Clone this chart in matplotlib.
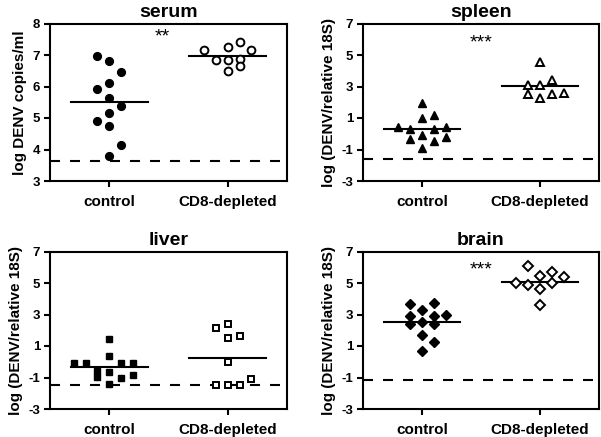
import numpy as np
import matplotlib.pyplot as plt

plt.rcParams["font.family"] = ["Liberation Sans", "DejaVu Sans"]
plt.rcParams["font.weight"] = "bold"
plt.rcParams["axes.linewidth"] = 1.5

# =========================================
# DADOS
# =========================================

grupos = ["control", "CD8-depleted"]

# serum - log DENV copies/ml
serum_control = [6.96, 6.82, 6.46, 6.10, 5.91, 5.65, 5.39, 5.15, 4.89, 4.74, 4.14, 3.79]
serum_control_col = [-1, 0, 1, 0, -1, 0, 1, 0, -1, 0, 1, 0]
serum_cd8 = [7.17, 7.26, 7.40, 7.17, 6.83, 6.83, 6.88, 6.66, 6.48]
serum_cd8_col = [-2, 0, 1, 2, -1, 0, 1, 1, 0]
serum_lod = 3.63

# spleen
spleen_control = [1.95, 1.03, 1.16, 0.42, 0.29, 0.33, 0.46, -0.32, -0.07, -0.45, -0.18, -0.92]
spleen_control_col = [0, 0, 1, -2, -1, 1, 2, -1, 0, 1, 2, 0]
spleen_cd8 = [4.54, 3.43, 3.11, 3.07, 2.52, 2.24, 2.52, 2.59]
spleen_cd8_col = [0, 1, -1, 0, -1, 0, 1, 2]
spleen_lod = -1.58

# liver
liver_control = [1.44, 0.38, -0.10, -0.10, -0.10, -0.10, -0.59, -0.97, -0.64, -1.05, -0.84, -1.41]
liver_control_col = [0, 0, -3, -2, 1, 2, -1, -1, 0, 1, 2, 0]
liver_cd8 = [2.14, 2.39, 1.50, 1.63, 0.00, -1.50, -1.50, -1.50, -1.08]
liver_cd8_col = [-1, 0, 0, 1, 0, -1, 0, 1, 2]
liver_lod = -1.46

# brain
brain_control = [3.64, 3.74, 3.28, 2.92, 2.92, 3.00, 2.39, 2.54, 2.39, 1.69, 1.25, 0.66]
brain_control_col = [-1, 1, 0, -1, 1, 2, -1, 0, 1, 0, 1, 0]
brain_cd8 = [6.07, 5.73, 5.46, 5.35, 5.03, 4.88, 5.03, 4.61, 3.60]
brain_cd8_col = [-1, 1, 0, 2, -2, -1, 1, 0, 0]
brain_lod = -1.18

# =========================================
# FIGURA
# =========================================

W, H = 601, 437
fig = plt.figure(figsize=(W / 100, H / 100), dpi=100)


def painel(box, titulo, ylabel, ctrl, ctrl_col, cd8, cd8_col, lod, marker,
           yticks, ylim, stars=None, stars_x=2.0, stars_y=None):
    l, t, r, b = box
    ax = fig.add_axes([l / W, 1 - b / H, (r - l) / W, (b - t) / H])

    xpos = [1, 3]
    passo = 0.2

    # control: simbolos cheios
    ax.plot(xpos[0] + passo * np.array(ctrl_col), ctrl, ls="none",
            marker=marker["m"], ms=marker["ms"], color="black", mec="black")
    # CD8-depleted: simbolos vazios
    ax.plot(xpos[1] + passo * np.array(cd8_col), cd8, ls="none",
            marker=marker["m"], ms=marker["ms"], mfc="white", mec="black",
            mew=1.4)

    # linhas da media
    for x, vals in zip(xpos, [ctrl, cd8]):
        m = np.mean(vals)
        ax.plot([x - 0.65, x + 0.65], [m, m], color="black", lw=1.5, zorder=1)

    # limite de deteccao
    ax.axhline(lod, color="black", lw=1.5, ls=(0, (4.8, 4.8)), zorder=0)

    if stars:
        ax.text(stars_x, stars_y, stars, ha="center", va="center",
                fontsize=14, fontweight="normal")

    ax.set_xlim(0, 4)
    ax.set_ylim(*ylim)
    ax.set_xticks(xpos)
    ax.set_xticklabels(grupos, fontsize=11, fontweight="bold")
    ax.set_yticks(yticks)
    ax.set_yticklabels([str(v) for v in yticks], fontsize=9.5, fontweight="bold")
    ax.tick_params(direction="out", length=4, width=1.5, pad=3)
    ax.tick_params(axis="x", pad=6)
    ax.set_ylabel(ylabel, fontsize=11, fontweight="bold", labelpad=4)
    ax.set_title(titulo, fontsize=14, fontweight="bold", pad=5)
    return ax


y18s = "log (DENV/relative 18S)"
t_18s = [-3, -1, 1, 3, 5, 7]

painel((50, 23.5, 287, 181), "serum", "log DENV copies/ml",
       serum_control, serum_control_col, serum_cd8, serum_cd8_col, serum_lod,
       {"m": "o", "ms": 5.6}, [3, 4, 5, 6, 7, 8], (3, 8),
       stars="**", stars_x=1.9, stars_y=7.57)

painel((363, 23.5, 599, 181), "spleen", y18s,
       spleen_control, spleen_control_col, spleen_cd8, spleen_cd8_col, spleen_lod,
       {"m": "^", "ms": 5.8}, t_18s, (-3, 7),
       stars="***", stars_x=2.0, stars_y=5.75)

painel((50, 251.5, 287, 409), "liver", y18s,
       liver_control, liver_control_col, liver_cd8, liver_cd8_col, liver_lod,
       {"m": "s", "ms": 5}, t_18s, (-3, 7))

painel((363, 251.5, 599, 409), "brain", y18s,
       brain_control, brain_control_col, brain_cd8, brain_cd8_col, brain_lod,
       {"m": "D", "ms": 4.8}, t_18s, (-3, 7),
       stars="***", stars_x=2.0, stars_y=5.8)

fig.savefig("out.png", dpi=100)
